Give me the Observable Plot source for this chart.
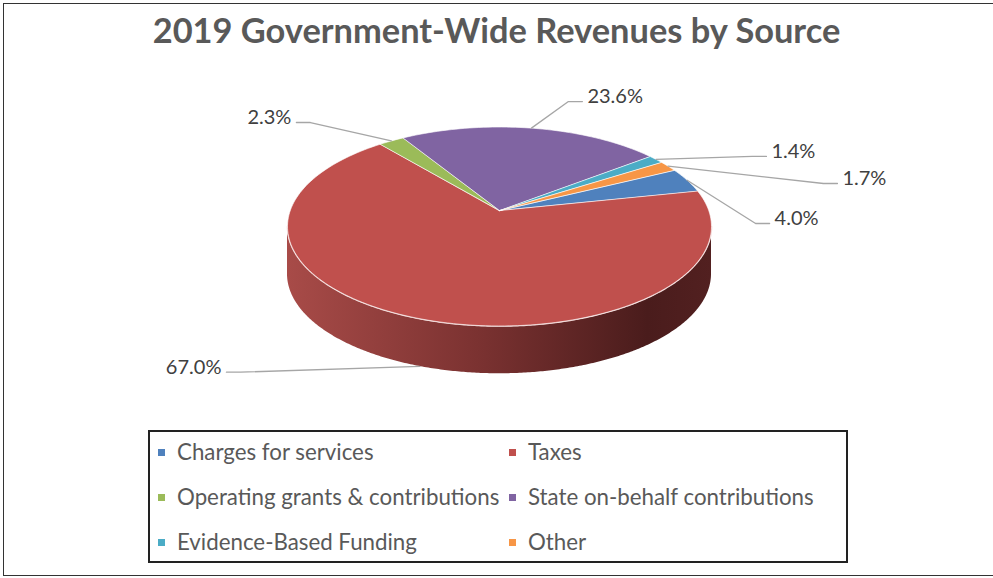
<!DOCTYPE html>
<html><head><meta charset="utf-8">
<script src="https://cdn.jsdelivr.net/npm/d3@7"></script>
<script src="https://cdn.jsdelivr.net/npm/@observablehq/plot@0.6"></script>
<style>
body{margin:0;background:#fff;font-family:Lato,"Open Sans",sans-serif;}
#wrap{position:relative;width:993px;height:578px;overflow:hidden;background:#fff;}
#frame{position:absolute;left:3px;top:3px;width:1100px;height:573px;border:1.5px solid #333;box-sizing:border-box;}
#title{position:absolute;left:0;top:9px;width:993px;text-align:center;font-weight:bold;font-size:34.4px;color:#595959;white-space:nowrap;}
#chart{position:absolute;left:0;top:0;}
#legend{position:absolute;left:148px;top:430px;width:700px;height:133px;border:2px solid #222;box-sizing:border-box;}
.item{position:absolute;font-size:22.3px;color:#595959;white-space:nowrap;line-height:26px;height:26px;}
.sw{position:absolute;width:7px;height:7px;left:0;top:10px;}
.item span.t{position:absolute;left:19px;top:0;}
</style></head>
<body>
<div id="wrap">
  <div id="frame"></div>
  <div id="chart"></div>
  <div id="title">2019 Government-Wide Revenues by Source</div>
  <div id="legend"></div>
</div>
<script>
// ---- data ----
const categories = ["Charges for services","Taxes","Operating grants & contributions","State on-behalf contributions","Evidence-Based Funding","Other"];
const values = [4.0, 67.0, 2.3, 23.6, 1.4, 1.7];
const labels = ["4.0%","67.0%","2.3%","23.6%","1.4%","1.7%"];
const colors = ["#4F81BD","#C0504D","#9BBB59","#8064A2","#4BACC6","#F79646"];

// ---- layout (pie units: x in rx, y in ry, up positive) ----
const W = 993, H = 425, CX = 499, CY = 226, RX = 212, RY = 99.5;
const DEPTH = 0.48, APEX = 0.16, START = 64, WARP = 9.45;
const labelElbow = [[1.208,0.03],[-1.222,-1.464],[-0.892,1.045],[0.325,1.256],[1.193,0.704],[1.528,0.432]];
const labelFromSide = [false,true,false,false,false,false];

const rad = d => d*Math.PI/180;
const warp = a => a - WARP*Math.sin(rad(a));
const rim = s => [Math.sin(rad(s)), Math.cos(rad(s))];
const norm = s => ((s % 360) + 360) % 360;

const total = d3.sum(values);
let cum = 0;
const slices = values.map((v,i) => {
  const a0 = START + cum/total*360; cum += v;
  const a1 = START + cum/total*360;
  return {i, a0, a1};
});

// top faces
const topRows = [];
slices.forEach(({i,a0,a1}) => {
  topRows.push({id:"t"+i, x:0, y:APEX, c:colors[i]});
  const n = Math.max(4, Math.ceil((a1-a0)/1.5));
  for (let k=0;k<=n;k++){
    const [x,y] = rim(warp(a0+(a1-a0)*k/n));
    topRows.push({id:"t"+i, x, y, c:colors[i]});
  }
});

// front side (visible rim between screen angles 90 and 270)
const sideBySlice = slices.map(({i,a0,a1}) => {
  const pts = [];
  const n = Math.ceil((a1-a0)/0.5);
  for (let k=0;k<=n;k++){
    const s = warp(a0+(a1-a0)*k/n);
    const m = norm(s);
    if (m < 90 || m > 270) continue;
    const [x,y] = rim(s);
    pts.push({x, y});
  }
  return pts.sort((a,b)=>a.x-b.x);
});
const rimLine = sideBySlice.flat().sort((a,b)=>a.x-b.x);

// leader lines & labels
const leadRows = [], textRows = [];
slices.forEach(({i,a0,a1}) => {
  const [ax, ay0] = rim(warp((a0+a1)/2));
  const ay = labelFromSide[i] ? ay0 - DEPTH : ay0;
  const [ex, ey] = labelElbow[i];
  const dir = ex >= 0 ? 1 : -1;
  const endx = ex + dir*14/RX;
  leadRows.push({id:i, x:ax, y:ay},{id:i, x:ex, y:ey},{id:i, x:endx, y:ey});
  textRows.push({x:endx, y:ey, text:labels[i], dir});
});

// gradient definitions for the shaded side
const gradDefs = (index, scales) => {
  const defs = d3.create("svg:defs");
  colors.forEach((c,i) => {
    const g = defs.append("linearGradient").attr("id","sg"+i)
      .attr("gradientUnits","userSpaceOnUse")
      .attr("x1", scales.x(-1)).attr("x2", scales.x(1)).attr("y1",0).attr("y2",0);
    const base = d3.color(c);
    const stops = i === 1
      ? [[0,"#a84b48"],[0.45,"#7b3231"],[0.85,"#4a1c1c"],[1,"#522020"]]
      : [[0,base.darker(0.4).formatHex()],[0.45,base.darker(0.9).formatHex()],[0.85,base.darker(1.6).formatHex()],[1,base.darker(1.4).formatHex()]];
    stops.forEach(([o,col]) => g.append("stop").attr("offset",o).attr("stop-color",col));
  });
  return defs.node();
};

const sideMarks = sideBySlice.map((pts,i) => pts.length > 1
  ? Plot.areaY(pts, {x:"x", y1:"y", y2: d => d.y - DEPTH, fill:`url(#sg${i})`})
  : null).filter(Boolean);

const plot = Plot.plot({
  width: W, height: H,
  margin: 0,
  x: {domain: [-CX/RX, (W-CX)/RX], axis: null},
  y: {domain: [-(H-CY)/RY, CY/RY], axis: null},
  color: {type: "identity"},
  style: {fontFamily: "Lato, 'Open Sans', sans-serif", background: "transparent", overflow: "visible"},
  marks: [
    gradDefs,
    ...sideMarks,
    Plot.line(rimLine, {x:"x", y:"y", stroke:"#f3d9d8", strokeWidth:1.6}),
    Plot.line(topRows, {x:"x", y:"y", z:"id", fill:"c", stroke:"white", strokeWidth:0.8, strokeOpacity:0.8, curve:"linear-closed"}),
    Plot.line(leadRows, {x:"x", y:"y", z:"id", stroke:"#a6a6a6", strokeWidth:1.3}),
    Plot.text(textRows.filter(d=>d.dir>0), {x:"x", y:"y", text:"text", textAnchor:"start", dx:5, dy:-5, fontSize:20, fill:"#404040"}),
    Plot.text(textRows.filter(d=>d.dir<0), {x:"x", y:"y", text:"text", textAnchor:"end", dx:-5, dy:-5, fontSize:20, fill:"#404040"})
  ]
});
document.getElementById("chart").appendChild(plot);

// legend
const leg = document.getElementById("legend");
categories.forEach((c,i) => {
  const col = i % 2, row = Math.floor(i/2);
  const it = document.createElement("div");
  it.className = "item";
  it.style.left = (col ? 359 : 8) + "px";
  it.style.top = (7 + row*45) + "px";
  it.innerHTML = `<div class="sw" style="background:${colors[i]}"></div><span class="t"></span>`;
  it.querySelector(".t").textContent = c;
  leg.appendChild(it);
});
</script>
</body></html>
